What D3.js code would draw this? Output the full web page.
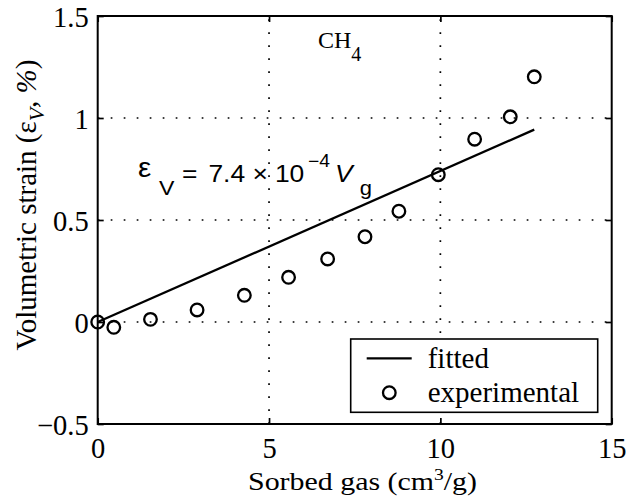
<!DOCTYPE html>
<html>
<head>
<meta charset="utf-8">
<script src="https://cdn.jsdelivr.net/npm/d3@7"></script>
<style>
  html, body { margin: 0; padding: 0; background: #fff; }
  svg { display: block; }
</style>
</head>
<body>
<svg id="chart" width="626" height="499"></svg>
<script>
// Sorbed gas (cm3/g) vs. volumetric strain (%) for CH4
const sorbedGas = [0, 0.47, 1.54, 2.90, 4.28, 5.57, 6.71, 7.80, 8.79, 9.94, 11.0, 12.04, 12.74];
const strainPct = [0, -0.026, 0.013, 0.059, 0.131, 0.219, 0.309, 0.418, 0.543, 0.722, 0.896, 1.006, 1.202];

// linear fit: eps_V = 7.4e-4 * Vg  (fraction)  ->  0.074 * Vg in percent
const fitCoef = 7.4e-4;
const fitRange = [0, 12.74];

const xTicks = [0, 5, 10, 15];
const yTicks = [-0.5, 0, 0.5, 1, 1.5];
const xDomain = [0, 15];
const yDomain = [-0.5, 1.5];

const legendLabels = ["fitted", "experimental"];

const svg = d3.select("#chart");
const serif = "'Liberation Serif', 'Times New Roman', serif";
const sans = "'Liberation Sans', Arial, Helvetica, sans-serif";

const L = 97.7, R = 611.7, T = 16, B = 424;
const x = d3.scaleLinear().domain(xDomain).range([L, R]);
const y = d3.scaleLinear().domain(yDomain).range([B, T]);

// dotted grid at interior ticks
const grid = svg.append("g").attr("stroke", "#000").attr("stroke-width", 1.7)
  .attr("stroke-dasharray", "1.7,11.3");
grid.selectAll("line.gx").data(xTicks.filter(v => v > xDomain[0] && v < xDomain[1]))
  .join("line").attr("class", "gx")
  .attr("x1", d => x(d)).attr("x2", d => x(d)).attr("y1", B).attr("y2", T);
grid.selectAll("line.gy").data(yTicks.filter(v => v > yDomain[0] && v < yDomain[1]))
  .join("line").attr("class", "gy")
  .attr("y1", d => y(d)).attr("y2", d => y(d)).attr("x1", L).attr("x2", R);

// fitted line
const fitPts = fitRange.map(v => [v, fitCoef * v * 100]);
svg.append("path")
  .attr("d", d3.line().x(d => x(d[0])).y(d => y(d[1]))(fitPts))
  .attr("fill", "none").attr("stroke", "#000").attr("stroke-width", 2.3);

// experimental points
svg.append("g").selectAll("circle")
  .data(sorbedGas.map((v, i) => [v, strainPct[i]]))
  .join("circle")
  .attr("cx", d => x(d[0])).attr("cy", d => y(d[1])).attr("r", 6.3)
  .attr("fill", "none").attr("stroke", "#000").attr("stroke-width", 2.3);

// axes (inward ticks)
const fmt = d3.format("");
function styleAxis(g) {
  g.select(".domain").remove();
  g.selectAll(".tick line").attr("stroke", "#000").attr("stroke-width", 1.7);
  g.selectAll(".tick text").attr("font-family", serif).attr("font-size", 28.5).attr("fill", "#000");
}
svg.append("g").attr("transform", `translate(0,${B})`)
  .call(d3.axisBottom(x).tickValues(xTicks).tickFormat(fmt).tickSize(-6).tickPadding(15))
  .call(styleAxis)
  .selectAll(".tick text").attr("dy", "0.66em");
svg.append("g").attr("transform", `translate(${L},0)`)
  .call(d3.axisLeft(y).tickValues(yTicks).tickFormat(fmt).tickSize(-6).tickPadding(9))
  .call(styleAxis)
  .selectAll(".tick text").attr("dy", "0.38em");
svg.append("g").attr("transform", `translate(0,${T})`)
  .call(d3.axisTop(x).tickValues(xTicks).tickFormat("").tickSize(-6))
  .call(styleAxis);
svg.append("g").attr("transform", `translate(${R},0)`)
  .call(d3.axisRight(y).tickValues(yTicks).tickFormat("").tickSize(-6))
  .call(styleAxis);

// frame
svg.append("rect").attr("x", L).attr("y", T).attr("width", R - L).attr("height", B - T)
  .attr("fill", "none").attr("stroke", "#000").attr("stroke-width", 2);

// axis labels
const xl = svg.append("text").attr("x", 248).attr("y", 490)
  .attr("textLength", 229).attr("lengthAdjust", "spacingAndGlyphs")
  .attr("font-family", serif).attr("font-size", 26);
xl.append("tspan").text("Sorbed gas (cm");
xl.append("tspan").attr("font-size", 17).attr("dy", -10).text("3");
xl.append("tspan").attr("dy", 10).text("/g)");

const yl = svg.append("text").attr("transform", "translate(36,205) rotate(-90)")
  .attr("text-anchor", "middle").attr("font-family", serif).attr("font-size", 29);
yl.append("tspan").text("Volumetric strain (ε");
yl.append("tspan").attr("font-size", 22).attr("font-style", "italic").attr("dy", 8).text("V");
yl.append("tspan").attr("dy", -8).text(", ");
yl.append("tspan").attr("font-style", "italic").text("%");
yl.append("tspan").text(")");

// gas annotation
const ch = svg.append("text").attr("x", 318).attr("y", 48).attr("font-family", serif).attr("font-size", 24);
ch.append("tspan").text("CH");
ch.append("tspan").attr("font-size", 20).attr("dy", 13).text("4");

// fit equation, pieces placed along the line
const eq = svg.append("text").attr("transform", "translate(138,0) scale(1.1,1)")
  .attr("font-family", sans).attr("font-size", 24).attr("fill", "#000");
const eqParts = [
  { t: "ε", x: 0, y: 177, s: 27 },
  { t: "V", x: 19, y: 195, s: 21 },
  { t: "=", x: 40, y: 181.7 },
  { t: "7.4", x: 64, y: 181.7 },
  { t: "×", x: 104, y: 181.7 },
  { t: "10", x: 124.5, y: 181.7 },
  { t: "−4", x: 154.5, y: 167, s: 17.5 },
  { t: "V", x: 179, y: 181.7, i: true },
  { t: "g", x: 201.5, y: 195, s: 20 }
];
eq.selectAll("tspan").data(eqParts).join("tspan")
  .attr("x", d => d.x).attr("y", d => d.y)
  .attr("font-size", d => d.s || null)
  .attr("font-style", d => d.i ? "italic" : null)
  .text(d => d.t);

// legend
const lg = svg.append("g");
lg.append("rect").attr("x", 350.7).attr("y", 339).attr("width", 247).attr("height", 73.3)
  .attr("fill", "#fff").attr("stroke", "#000").attr("stroke-width", 1.6);
lg.append("line").attr("x1", 366.7).attr("x2", 411.7).attr("y1", 358.3).attr("y2", 358.3)
  .attr("stroke", "#000").attr("stroke-width", 2.3);
lg.append("circle").attr("cx", 389.3).attr("cy", 392.7).attr("r", 6.3)
  .attr("fill", "none").attr("stroke", "#000").attr("stroke-width", 2.3);
lg.selectAll("text").data(legendLabels).join("text")
  .attr("x", 427.7).attr("y", (d, i) => [368, 401.7][i])
  .attr("font-family", serif).attr("font-size", 29).text(d => d);
</script>
</body>
</html>
